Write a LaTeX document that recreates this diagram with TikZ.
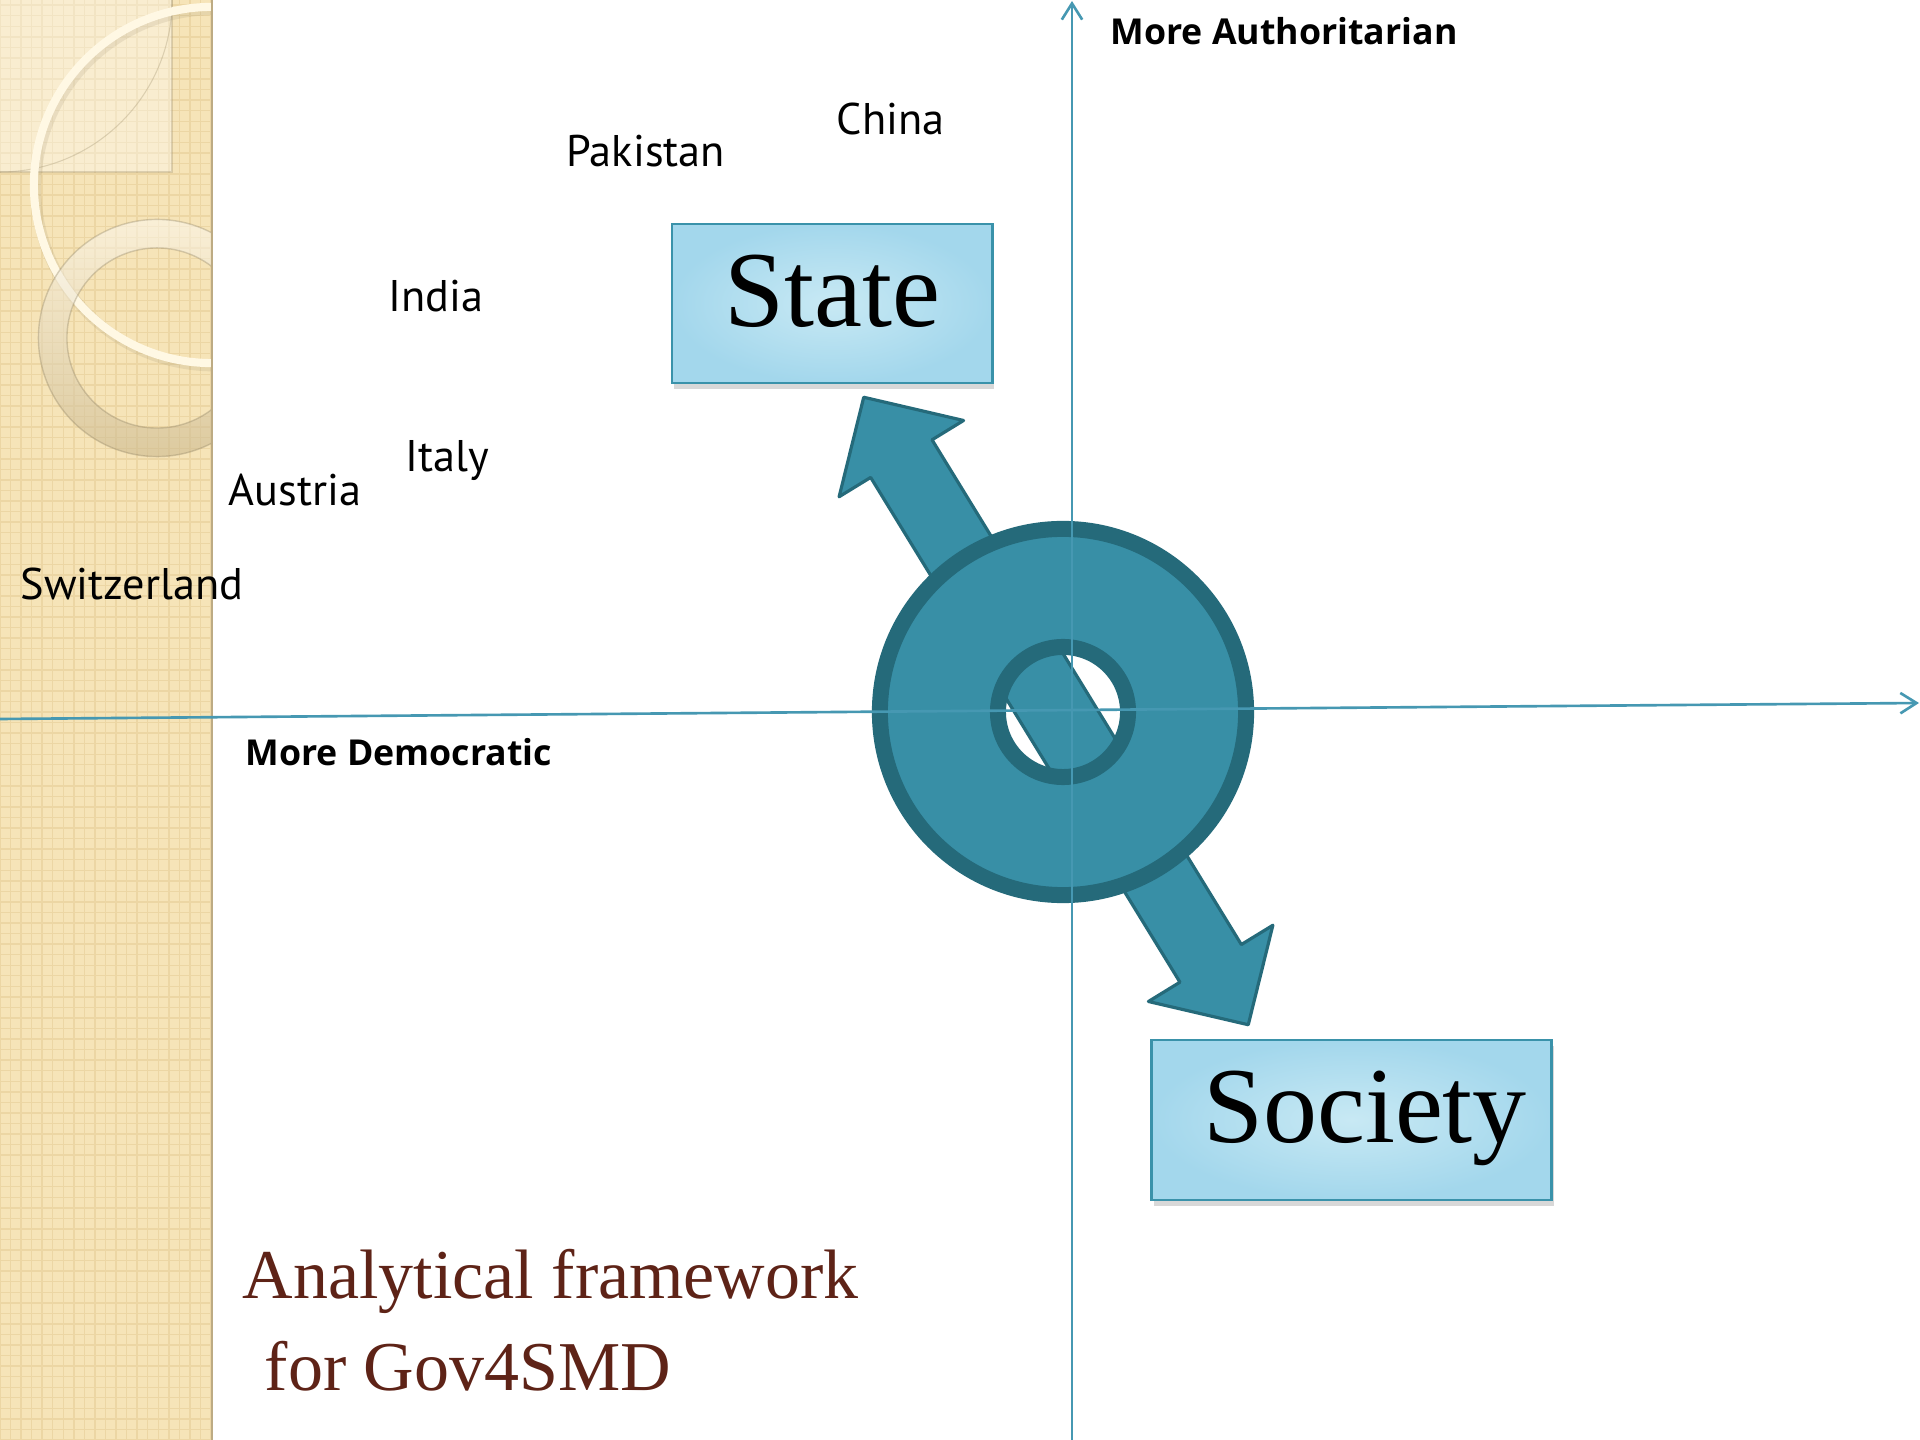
\documentclass[tikz,border=0pt]{standalone}
\usepackage{fontspec}
\setmainfont{Liberation Serif}
\newfontfamily\labelfont{PT Sans}
\newfontfamily\axisfont{Open Sans}
\usepackage{tikz}
\usetikzlibrary{arrows.meta}
\usetikzlibrary{shadows}
\usetikzlibrary{patterns}

\definecolor{stripbg}{RGB}{246,228,184}
\definecolor{stripline}{RGB}{236,214,164}
\definecolor{creamline}{RGB}{255,248,228}
\definecolor{tealfill}{RGB}{56,143,166}
\definecolor{tealdark}{RGB}{37,106,122}
\definecolor{axisblue}{RGB}{70,152,178}
\definecolor{boxedge}{RGB}{58,146,170}
\definecolor{boxin}{RGB}{200,233,244}
\definecolor{boxout}{RGB}{163,215,236}
\definecolor{titlebrown}{RGB}{94,35,23}

\tikzset{
  bluebox/.style={draw=boxedge, line width=0.8pt, inner color=boxin, outer color=boxout,
    inner sep=0pt, text height=20.9pt, text depth=8pt, font=\fontsize{30.7}{36}\selectfont,
    drop shadow={shadow xshift=0.6pt, shadow yshift=-1.6pt, opacity=0.3}},
  country/.style={anchor=base west, inner sep=0pt, font=\labelfont\fontsize{12.6}{15}\selectfont},
  axislabel/.style={anchor=base west, inner sep=0pt, font=\axisfont\bfseries\fontsize{10.15}{13}\selectfont},
  axisline/.style={draw=axisblue, line width=0.75pt, -{Straight Barb[length=4.6pt, width=5.8pt]}},
  titleline/.style={anchor=base west, inner sep=0pt, text=titlebrown, font=\fontsize{19.9}{24}\selectfont},
}

\begin{document}
\begin{tikzpicture}[x=0.01cm, y=-0.01cm]
    \useasboundingbox (0,0) rectangle (1920,1440);
    \fill[white] (0,0) rectangle (1920,1440);

    % left strip
    \fill[stripbg] (0,0) rectangle (212,1440);
    \fill[pattern=grid, pattern color=stripline] (0,0) rectangle (212,1440);
    \begin{scope}
      \clip (0,0) rectangle (212,1440);
      \fill[white, opacity=0.35] (0,0) rectangle (172,172);
      \draw[stripline!70!black, opacity=0.35, line width=0.3pt] (0,172) -- (172,172) -- (172,0);
      \draw[stripline!70!black, opacity=0.35, line width=0.3pt] (0,172) arc[start angle=-90, end angle=0, radius=1.72cm];
      \draw[stripline!60!black, opacity=0.15, line width=3pt] (214,188) circle (1.78cm);
      \draw[creamline, line width=2.3pt] (212,185) circle (1.78cm);
      \shade[even odd rule, top color=white!80!stripbg, bottom color=stripline!85!black, opacity=0.55]
        (157,338) circle (1.185cm) (157,338) circle (0.9cm);
      \draw[stripline!60!black, opacity=0.35, line width=0.4pt] (157,338) circle (1.185cm) (157,338) circle (0.9cm);
    \end{scope}
    \draw[stripline!80!black, line width=0.6pt] (212,0) -- (212,1440);

    % double arrow behind the ring
    \begin{scope}[shift={(1056,711)}, rotate=-58.5]
      \filldraw[fill=tealfill, draw=tealdark, line width=0.9pt, line join=round]
        (-368,0) -- (-296,73) -- (-296,36) -- (296,36) -- (296,73) -- (368,0)
        -- (296,-73) -- (296,-36) -- (-296,-36) -- (-296,-73) -- cycle;
    \end{scope}
    \filldraw[fill=tealfill, draw=tealdark, line width=0.16cm, even odd rule]
      (1063,712) circle (1.83cm) (1063,712) circle (0.65cm);

    % axes
    \coordinate (west) at (0,719);
    \coordinate (east) at (1919,703);
    \coordinate (south) at (1072,1440);
    \coordinate (north) at (1072,1);
    \draw[axisline] (west) -- (east);
    \draw[axisline] (south) -- (north);

    \node[bluebox, minimum width=3.2cm, minimum height=1.59cm] (state) at (832,303.5) {State};
    \node[bluebox, minimum width=4cm, minimum height=1.6cm] (society) at (1351.5,1120) {\ Society};

    \node[country] (pakistan) at (566,167) {Pakistan};
    \node[country] (china) at (836,135) {China};
    \node[country] (india) at (388,312) {India};
    \node[country] (italy) at (405,472) {Italy};
    \node[country] (austria) at (228,506) {Austria};
    \node[country] (switzerland) at (20,600) {Switzerland};
    \node[axislabel] (democratic) at (245,766) {More Democratic};
    \node[axislabel] (authoritarian) at (1110,45) {More Authoritarian};

    \node[titleline] (title1) at (242,1299) {Analytical framework};
    \node[titleline] (title2) at (264,1390) {for Gov4SMD};
  \end{tikzpicture}
\end{document}
